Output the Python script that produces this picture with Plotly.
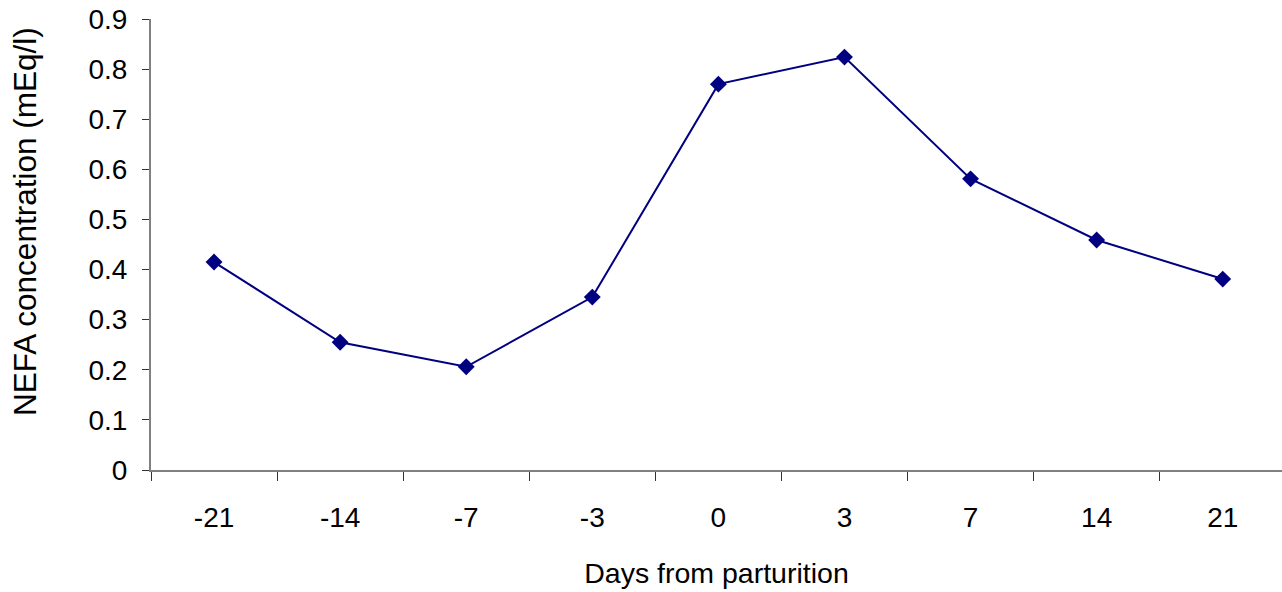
import plotly.graph_objects as go

# Days relative to parturition and mean NEFA concentration (mEq/l)
days = ["-21", "-14", "-7", "-3", "0", "3", "7", "14", "21"]
nefa = [0.415, 0.255, 0.206, 0.345, 0.770, 0.824, 0.581, 0.459, 0.381]

y_ticks = [0, 0.1, 0.2, 0.3, 0.4, 0.5, 0.6, 0.7, 0.8, 0.9]
y_labels = ["0", "0.1", "0.2", "0.3", "0.4", "0.5", "0.6", "0.7", "0.8", "0.9"]

font_family = "Liberation Sans, Arial, sans-serif"

fig = go.Figure(
    go.Scatter(
        x=days,
        y=nefa,
        mode="lines+markers",
        line=dict(color="#000080", width=2),
        marker=dict(symbol="diamond", size=13, color="#000080"),
        showlegend=False,
    )
)

fig.update_layout(
    width=1282,
    height=592,
    margin=dict(l=151, r=0, t=19, b=122),
    paper_bgcolor="white",
    plot_bgcolor="white",
    font=dict(family=font_family, size=28, color="black"),
)

fig.update_xaxes(
    type="category",
    range=[-0.5, 8.47],
    showline=True,
    linecolor="#808080",
    linewidth=2,
    showgrid=False,
    zeroline=False,
    ticks="outside",
    tickson="boundaries",
    ticklen=9,
    tickcolor="#333333",
    tickwidth=1,
    ticklabelstandoff=21,
    tickfont=dict(size=28),
    title=dict(text="Days from parturition", font=dict(size=28.5), standoff=31),
)

fig.update_yaxes(
    range=[0, 0.9],
    tickvals=y_ticks,
    ticktext=y_labels,
    showline=True,
    linecolor="#808080",
    linewidth=2,
    showgrid=False,
    zeroline=False,
    ticks="outside",
    ticklen=7,
    tickcolor="#333333",
    tickwidth=1,
    ticklabelstandoff=9,
    tickfont=dict(size=28),
)

# Vertical y-axis title, sitting slightly above the plot's mid-height
fig.add_annotation(
    text="NEFA concentration (mEq/l)",
    textangle=-90,
    xref="paper",
    yref="paper",
    x=-0.1114,
    y=0.55,
    xanchor="center",
    yanchor="middle",
    showarrow=False,
    font=dict(size=31.5),
)

fig.write_html("out.html")
